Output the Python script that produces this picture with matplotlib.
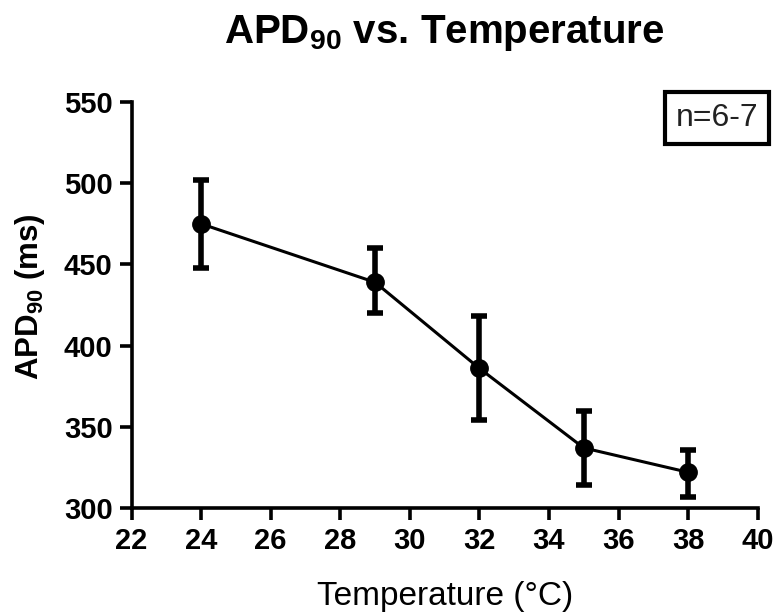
import matplotlib
matplotlib.use("Agg")
import matplotlib.pyplot as plt

plt.rcParams["font.family"] = ["Liberation Sans", "DejaVu Sans"]
plt.rcParams["mathtext.fontset"] = "custom"
plt.rcParams["mathtext.rm"] = "Liberation Sans"
plt.rcParams["mathtext.bf"] = "Liberation Sans:bold"

# data
temps = [24, 29, 32, 35, 38]
apd90 = [475, 439, 386, 337, 322]
err_hi = [502, 460, 418, 360, 336]
err_lo = [448, 420, 354, 314, 307]

xticks = [22, 24, 26, 28, 30, 32, 34, 36, 38, 40]
yticks = [300, 350, 400, 450, 500, 550]

yerr = [[m - lo for m, lo in zip(apd90, err_lo)],
        [hi - m for m, hi in zip(apd90, err_hi)]]

W, H = 777, 612
fig = plt.figure(figsize=(W / 100, H / 100), dpi=100)
ax = fig.add_axes([131.5 / W, 1 - 508 / H, 626.2 / W, 406 / H])

ax.errorbar(temps, apd90, yerr=yerr, color="black", marker="o", markersize=12.5,
            linewidth=2.2, elinewidth=4, capsize=6, capthick=4,
            clip_on=False, zorder=3)

ax.set_xlim(22, 40)
ax.set_ylim(300, 550)
ax.set_xticks(xticks)
ax.set_yticks(yticks)

for side in ["top", "right"]:
    ax.spines[side].set_visible(False)
for side in ["left", "bottom"]:
    ax.spines[side].set_linewidth(2.6)

ax.tick_params(direction="out", length=8.5, width=2.6, labelsize=21, pad=5)
for lbl in ax.get_xticklabels() + ax.get_yticklabels():
    lbl.set_fontweight("bold")

fig.text(444 / W, 1 - 43 / H, r"APD$_{\mathbf{90}}$ vs. Temperature",
         ha="center", va="baseline", fontsize=29, fontweight="bold")
fig.text(445 / W, 1 - 605 / H, "Temperature (°C)", ha="center", va="baseline",
         fontsize=24)
fig.text(30 / W, 1 - 297 / H, r"APD$_{\mathbf{90}}$ (ms)", rotation=90,
         ha="center", va="center", fontsize=22.5, fontweight="bold")

fig.text(717 / W, 1 - 118 / H, "n=6-7", ha="center", va="center", fontsize=23,
         color="#222222",
         bbox=dict(boxstyle="square,pad=0.35", facecolor="white",
                   edgecolor="black", linewidth=3))

fig.savefig("out.png", dpi=100, facecolor="white")
